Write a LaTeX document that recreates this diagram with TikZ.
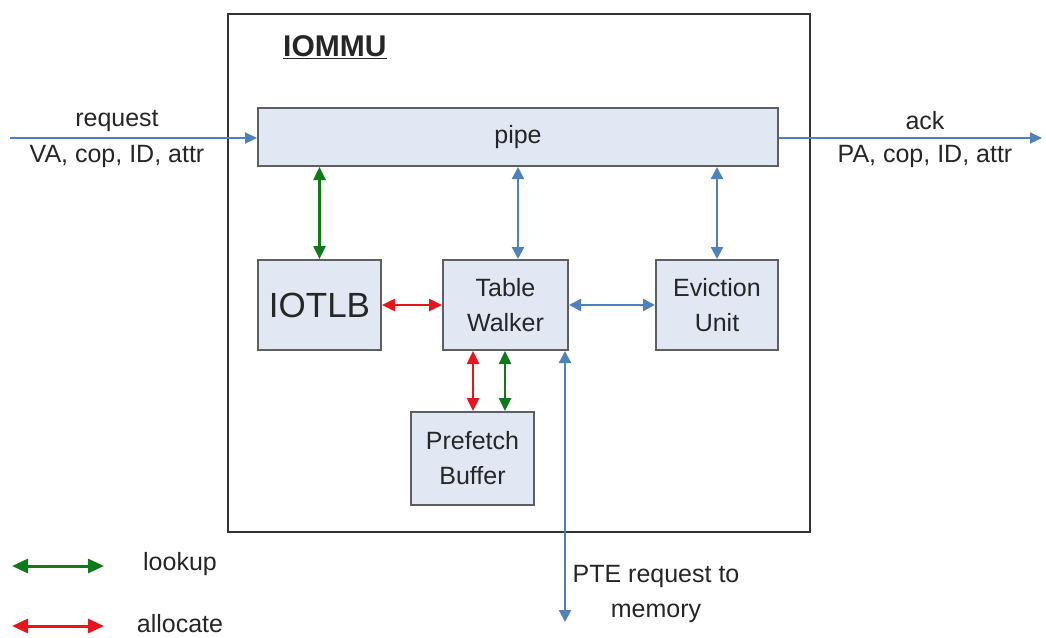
\documentclass[tikz,border=0pt]{standalone}
\usepackage{fontspec}
\setmainfont{Liberation Sans}
\usetikzlibrary{arrows.meta,calc}
\definecolor{blu}{HTML}{4F81BD}
\definecolor{grn}{HTML}{0F7A1A}
\definecolor{rd}{HTML}{E8141E}
\definecolor{boxfill}{HTML}{E1E8F3}
\definecolor{boxline}{HTML}{5F5F5F}
\definecolor{txt}{HTML}{262626}
\tikzset{
  blk/.style={draw=boxline, line width=2pt, fill=boxfill, inner sep=0pt, align=center,
    text=txt, font=\fontsize{25}{35}\selectfont},
  lbl/.style={inner sep=0pt, text=txt, font=\fontsize{25}{35}\selectfont, align=center},
  barr/.style={draw=blu, line width=2.2pt, {Triangle[length=12pt,width=12pt]}-{Triangle[length=12pt,width=12pt]}},
  garr/.style={draw=grn, line width=2.5pt, {Triangle[length=13pt,width=12pt]}-{Triangle[length=13pt,width=12pt]}},
  rarr/.style={draw=rd, line width=2.5pt, {Triangle[length=13pt,width=12pt]}-{Triangle[length=13pt,width=12pt]}},
  legarr/.style={line width=3pt, {Triangle[length=16pt,width=14pt]}-{Triangle[length=16pt,width=14pt]}},
  oarr/.style={draw=blu, line width=2.2pt, -{Triangle[length=12pt,width=11pt]}}
}
\begin{document}
\begin{tikzpicture}[x=1pt,y=-1pt]
\useasboundingbox (0,0) rectangle (1046,637);
% outer box
\node[draw=black!80, line width=2.5pt, minimum width=582pt, minimum height=518pt, inner sep=0pt] (iommu) at (519,273) {};
\node[lbl, anchor=west, font=\fontsize{30}{36}\selectfont\bfseries] (title) at (283,47) {\underline{IOMMU}};
% blocks
\node[blk, minimum width=520pt, minimum height=58pt] (pipe) at (518,137) {pipe};
\node[blk, minimum width=123pt, minimum height=90pt, font=\fontsize{35}{40}\selectfont] (iotlb) at (319.5,305) {IOTLB};
\node[blk, minimum width=125pt, minimum height=90pt] (tw) at (505.5,305) {Table\\Walker};
\node[blk, minimum width=122pt, minimum height=90pt] (eu) at (717,305) {Eviction\\Unit};
\node[blk, minimum width=123pt, minimum height=93pt] (pb) at (472.5,458.5) {Prefetch\\Buffer};
% external arrows
\coordinate (reqstart) at (10,138);
\coordinate (ackend) at (1042,138);
\draw[oarr] (reqstart) -- (reqstart -| pipe.west);
\draw[oarr] (ackend -| pipe.east) -- (ackend);
\node[lbl] (req) at (117,121) {request};
\node[lbl] (reqa) at (117,156) {VA, cop, ID, attr};
\node[lbl] (ack) at (925,121) {ack};
\node[lbl] (acka) at (925,156) {PA, cop, ID, attr};
% internal arrows
\draw[garr] (pipe.south -| iotlb.north) -- (iotlb.north);
\draw[barr] ($(pipe.south -| tw.north)+(12.5,0)$) -- ($(tw.north)+(12.5,0)$);
\draw[barr] (pipe.south -| eu.north) -- (eu.north);
\draw[rarr] (iotlb.east) -- (tw.west);
\draw[barr] (tw.east) -- (eu.west);
\draw[rarr] ($(tw.south)+(-32.5,0)$) -- ($(pb.north)+(0.5,0)$);
\draw[garr] ($(tw.south)+(-0.5,0)$) -- ($(pb.north)+(32.5,0)$);
\coordinate (mem) at (565,622);
\draw[barr] (tw.south -| mem) -- (mem);
\node[lbl] (pte) at (656,594) {PTE request to\\memory};
% legend
\coordinate (lg1a) at (12,566);
\coordinate (lg1b) at (104,566);
\coordinate (lg2a) at (12,626);
\coordinate (lg2b) at (104,626);
\draw[legarr, draw=grn] (lg1a) -- (lg1b);
\draw[legarr, draw=rd] (lg2a) -- (lg2b);
\node[lbl] (lookup) at (180,564) {lookup};
\node[lbl] (alloc) at (180,624) {allocate};
\end{tikzpicture}
\end{document}
